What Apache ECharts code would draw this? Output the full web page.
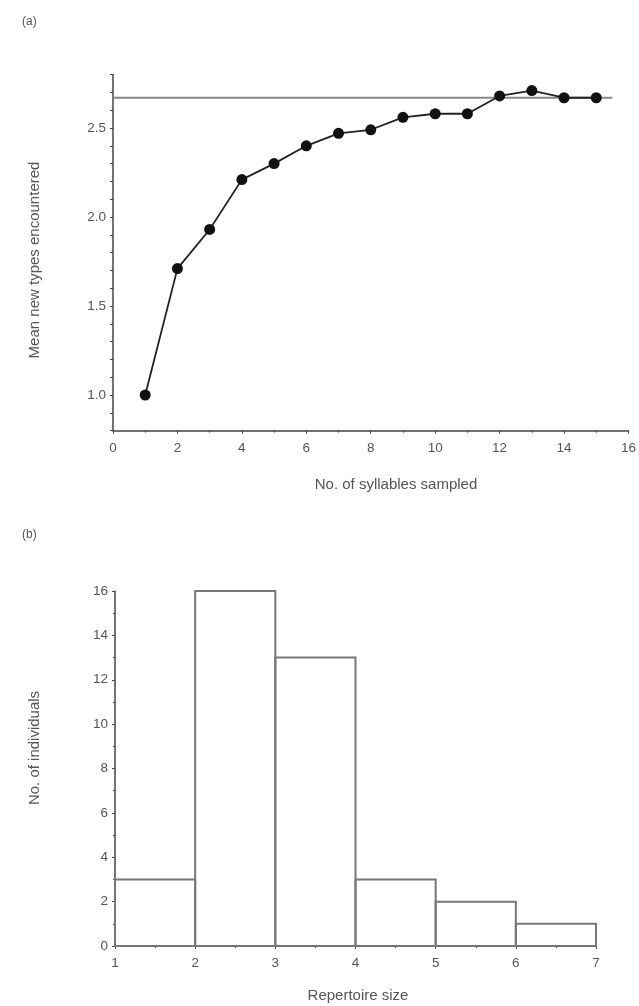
<!DOCTYPE html>
<html>
<head>
<meta charset="utf-8">
<script src="https://cdn.jsdelivr.net/npm/echarts@6/dist/echarts.min.js"></script>
<style>html,body{margin:0;padding:0;background:#fff;}#c{width:639px;height:1006px;}</style>
</head>
<body>
<div id="c"></div>
<script>
// Panel (a)
const syllablesSampled = [1,2,3,4,5,6,7,8,9,10,11,12,13,14,15];
const meanNewTypes = [1.00,1.71,1.93,2.21,2.30,2.40,2.47,2.49,2.56,2.58,2.58,2.68,2.71,2.67,2.67];
const asymptoteX = [0, 15.5];
const asymptoteY = 2.67;
// Panel (b)
const binStart = [1,2,3,4,5,6];
const binEnd = [2,3,4,5,6,7];
const individuals = [3,16,13,3,2,1];

const FONT = '"Liberation Sans", "DejaVu Sans", sans-serif';
const TXT = '#555';
const AX = '#444';

const chart = echarts.init(document.getElementById('c'), null, {renderer:'canvas'});
const lineData = syllablesSampled.map((x,i)=>[x, meanNewTypes[i]]);
const asymData = asymptoteX.map(x=>[x, asymptoteY]);
const histData = binStart.map((s,i)=>[s, binEnd[i], individuals[i]]);

chart.setOption({
  animation:false,
  backgroundColor:'#fff',
  grid:[
    {left:113, right:9, top:74.6, height:356, containLabel:false},
    {left:115, right:43, top:591, height:355, containLabel:false}
  ],
  xAxis:[
    {gridIndex:0, type:'value', min:0, max:16, interval:2,
     axisLine:{lineStyle:{color:AX, width:1.5}},
     axisTick:{show:true, length:3, inside:false, lineStyle:{color:AX}},
     minorTick:{show:true, splitNumber:2, length:2, lineStyle:{color:AX}},
     splitLine:{show:false},
     axisLabel:{color:TXT, fontSize:13.5, fontFamily:FONT, margin:11}},
    {gridIndex:1, type:'value', min:1, max:7, interval:1,
     axisLine:{lineStyle:{color:AX, width:1.5}},
     axisTick:{show:true, length:3, lineStyle:{color:AX}},
     minorTick:{show:true, splitNumber:2, length:2, lineStyle:{color:AX}},
     splitLine:{show:false},
     axisLabel:{color:TXT, fontSize:13.5, fontFamily:FONT, margin:10}}
  ],
  yAxis:[
    {gridIndex:0, type:'value', min:0.8, max:2.8, interval:0.1,
     axisLine:{show:true, lineStyle:{color:AX, width:1.5}},
     axisTick:{show:true, length:3, lineStyle:{color:AX}},
     splitLine:{show:false},
     axisLabel:{color:TXT, fontSize:13.5, fontFamily:FONT, margin:7,
       formatter:function(v){ const r=Math.round(v*10); return (r%5===0)? (r/10).toFixed(1) : ''; }}},
    {gridIndex:1, type:'value', min:0, max:16, interval:2,
     axisLine:{show:true, lineStyle:{color:AX, width:1.5}},
     axisTick:{show:true, length:3, lineStyle:{color:AX}},
     minorTick:{show:true, splitNumber:2, length:2, lineStyle:{color:AX}},
     splitLine:{show:false},
     axisLabel:{color:TXT, fontSize:13.5, fontFamily:FONT, margin:7}}
  ],
  series:[
    {type:'line', xAxisIndex:0, yAxisIndex:0, data:asymData, symbol:'none',
     lineStyle:{color:'#888', width:2}, silent:true},
    {type:'line', xAxisIndex:0, yAxisIndex:0, data:lineData, symbol:'circle', symbolSize:11,
     itemStyle:{color:'#111'}, lineStyle:{color:'#222', width:1.8}},
    {type:'custom', xAxisIndex:1, yAxisIndex:1, data:histData,
     renderItem:function(params, api){
       const p0 = api.coord([api.value(0), api.value(2)]);
       const p1 = api.coord([api.value(1), 0]);
       return {type:'rect', shape:{x:p0[0], y:p0[1], width:p1[0]-p0[0], height:p1[1]-p0[1]},
         style:{fill:'rgba(255,255,255,0)', stroke:'#777', lineWidth:2}};
     }}
  ],
  graphic:[
    {type:'text', left:22, top:16, style:{text:'(a)', fill:TXT, font:'12px '+FONT}},
    {type:'text', left:22, top:529, style:{text:'(b)', fill:TXT, font:'12px '+FONT}},
    {type:'text', x:35, y:260, rotation:Math.PI/2,
     style:{text:'Mean new types encountered', fill:TXT, font:'15px '+FONT, textAlign:'center', textVerticalAlign:'middle'}},
    {type:'text', x:396, y:485,
     style:{text:'No. of syllables sampled', fill:TXT, font:'15px '+FONT, textAlign:'center', textVerticalAlign:'middle'}},
    {type:'text', x:35, y:748, rotation:Math.PI/2,
     style:{text:'No. of individuals', fill:TXT, font:'15px '+FONT, textAlign:'center', textVerticalAlign:'middle'}},
    {type:'text', x:358, y:996,
     style:{text:'Repertoire size', fill:TXT, font:'15px '+FONT, textAlign:'center', textVerticalAlign:'middle'}}
  ]
});
</script>
</body>
</html>
